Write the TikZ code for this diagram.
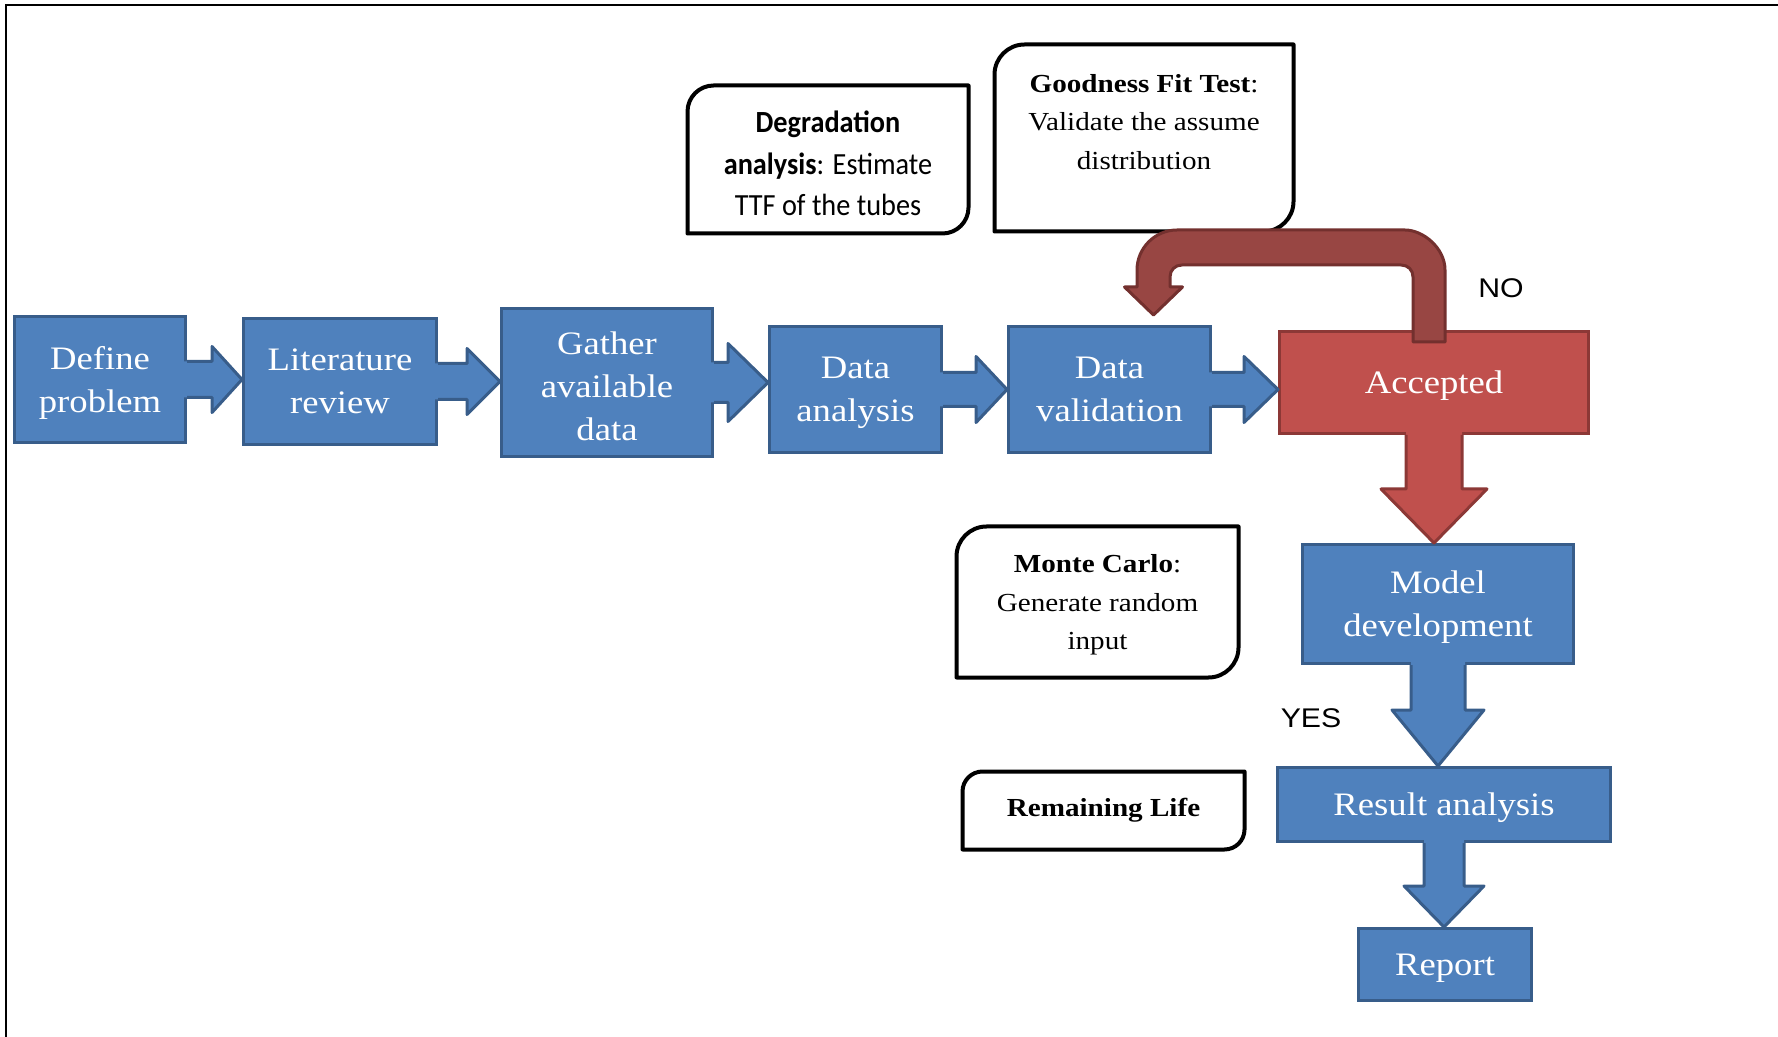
\documentclass[tikz,border=0pt]{standalone}
\usepackage{fontspec}
\setmainfont{Liberation Serif}[FakeStretch=1.12]
\newfontfamily\notefont{Carlito}[FakeStretch=0.92]
\newfontfamily\answerfont{Liberation Sans}[FakeStretch=1.12]
\usetikzlibrary{calc}

\definecolor{flowblue}{HTML}{4F81BD}
\definecolor{flowblueedge}{HTML}{385D8A}
\definecolor{flowred}{HTML}{C0504D}
\definecolor{flowrededge}{HTML}{8C3836}
\definecolor{loopred}{HTML}{984643}
\definecolor{loopredge}{HTML}{73302E}

\tikzset{
  boxdim/.style 2 args={minimum width=#1*0.4pt, minimum height=#2*0.4pt},
  stepnode/.style={draw=flowblueedge, fill=flowblue, line width=1.2pt, inner sep=0pt,
    text=white, align=center, text depth=-0.8pt, font=\fontsize{13.1}{17.2}\selectfont},
  decision/.style={stepnode, draw=flowrededge, fill=flowred},
  calloutbox/.style={inner sep=0pt, align=center, font=\fontsize{10.4}{15.4}\selectfont},
  calloutline/.style={line width=1.6pt, line join=round},
  flowedge/.style={line width=1.2pt, line join=round},
  answer/.style={inner sep=0pt, font=\answerfont\fontsize{10.8}{13}\selectfont}
}
\newcommand{\lowerby}[1]{\rule{0pt}{#1}}

% block arrow to the right, from #1 to #2: shaft half, head half, head length
\newcommand{\flowright}[5]{%
  \coordinate (tip) at (#2.west |- #1.east);
  \fill[flowblue] ($(#1.east)+(-3,-#3)$) -- ($(tip)+(-#5,-#3)$) -- ($(tip)+(-#5,-#4)$) -- (tip)
    -- ($(tip)+(-#5,#4)$) -- ($(tip)+(-#5,#3)$) -- ($(#1.east)+(-3,#3)$) -- cycle;
  \draw[flowedge, draw=flowblueedge] ($(#1.east)+(0,-#3)$) -- ($(tip)+(-#5,-#3)$) -- ($(tip)+(-#5,-#4)$) -- (tip)
    -- ($(tip)+(-#5,#4)$) -- ($(tip)+(-#5,#3)$) -- ($(#1.east)+(0,#3)$);
}
% block arrow downwards, colour #1, from #2 to #3
\newcommand{\flowdown}[6]{%
  \coordinate (tip) at (#2.south |- #3.north);
  \fill[#1] ($(#2.south)+(-#4,-3)$) -- ($(tip)+(-#4,-#6)$) -- ($(tip)+(-#5,-#6)$) -- (tip)
    -- ($(tip)+(#5,-#6)$) -- ($(tip)+(#4,-#6)$) -- ($(#2.south)+(#4,-3)$) -- cycle;
  \draw[flowedge, draw=#1edge] ($(#2.south)+(-#4,0)$) -- ($(tip)+(-#4,-#6)$) -- ($(tip)+(-#5,-#6)$) -- (tip)
    -- ($(tip)+(#5,-#6)$) -- ($(tip)+(#4,-#6)$) -- ($(#2.south)+(#4,0)$);
}
% note outline, round top left and bottom right corners
\newcommand{\callout}[2]{%
  \draw[calloutline] (#1.south west) -- ($(#1.north west)+(0,#2)$)
    .. controls ($(#1.north west)+(0,0.45*#2)$) and ($(#1.north west)+(0.45*#2,0)$) .. ($(#1.north west)+(#2,0)$)
    -- (#1.north east) -- ($(#1.south east)+(0,-#2)$)
    .. controls ($(#1.south east)+(0,-0.45*#2)$) and ($(#1.south east)+(-0.45*#2,0)$) .. ($(#1.south east)+(-#2,0)$)
    -- cycle;
}

\begin{document}
\begin{tikzpicture}[x=0.4pt,y=-0.4pt]
  \useasboundingbox (0,0) rectangle (1778,1037);
  \draw[line width=1pt] (6,1037) -- (6,5) -- (1778,5);

  % notes
  \node[calloutbox, boxdim={280}{147}, font=\notefont\fontsize{12.3}{16.6}\selectfont] (degradation) at (828,159.5)
    {\lowerby{12pt}\textbf{Degradation}\\\textbf{analysis}: Estimate\\TTF of the tubes};
  \callout{degradation}{26}
  \node[calloutbox, boxdim={298}{186}] (goodnessbox) at (1144,138) {};
  \callout{goodnessbox}{30}
  \node[calloutbox] (goodness) at ($(goodnessbox.center)+(0,-16)$)
    {\textbf{Goodness Fit Test}:\\Validate the assume\\distribution};
  \node[calloutbox, boxdim={281}{150}, text depth=0pt] (montecarlo) at (1097.5,602)
    {\textbf{Monte Carlo}:\\Generate random\\input};
  \callout{montecarlo}{30}
  \node[calloutbox, boxdim={281}{77}] (remaining) at (1103.5,810.5) {\textbf{Remaining Life}};
  \callout{remaining}{20}

  % steps
  \node[stepnode, boxdim={171}{126}] (define) at (100,379.5) {Define\\problem};
  \node[stepnode, boxdim={193}{126}] (literature) at (340,381.5) {Literature\\review};
  \node[stepnode, boxdim={211}{148}] (gather) at (607,382.5) {\lowerby{11.8pt}Gather\\available\\data};
  \node[stepnode, boxdim={172}{126}] (analysis) at (855.5,389.5) {Data\\analysis};
  \node[stepnode, boxdim={202}{126}] (validation) at (1109.5,389.5) {Data\\validation};
  \node[decision, boxdim={309}{102}] (accepted) at (1434,382.5) {Accepted};
  \node[stepnode, boxdim={271}{119}] (model) at (1438,604) {Model\\development};
  \node[stepnode, boxdim={333}{74}] (result) at (1444,804.5) {Result analysis};
  \node[stepnode, boxdim={173}{72}] (report) at (1445,964.5) {Report};

  % arrows
  \flowright{define}{literature}{18}{33}{30}
  \flowright{literature}{gather}{18}{33}{33}
  \flowright{gather}{analysis}{20}{39}{40}
  \flowright{analysis}{validation}{17}{33}{31}
  \flowright{validation}{accepted}{17}{33}{34}
  \flowdown{flowred}{accepted}{model}{28}{53}{54}
  \flowdown{flowblue}{model}{result}{27}{46}{56}
  \flowdown{flowblue}{result}{report}{20}{40}{41}

  % loop back when not accepted
  \coordinate (no1) at ($(accepted.north)+(-5,12)$);
  \coordinate (no2) at ($(validation.north)+(44,-10)$);
  \draw[flowedge, fill=loopred, draw=loopredge] ($(no1)+(16,0)$) -- ($(no1)+(16,-72)$)
    .. controls ($(no1)+(16,-94)$) and ($(no1)+(-6,-112)$) .. ($(no1)+(-24,-112)$)
    -- ($(no2)+(23.5,-85)$)
    .. controls ($(no2)+(1.5,-85)$) and ($(no2)+(-16.5,-67)$) .. ($(no2)+(-16.5,-45)$)
    -- ($(no2)+(-16.5,-28)$) -- ($(no2)+(-29,-28)$) -- (no2) -- ($(no2)+(29,-28)$) -- ($(no2)+(16.5,-28)$)
    -- ($(no2)+(16.5,-38)$)
    .. controls ($(no2)+(16.5,-45)$) and ($(no2)+(21.5,-50)$) .. ($(no2)+(28.5,-50)$)
    -- ($(no1)+(-28,-77)$)
    .. controls ($(no1)+(-21,-77)$) and ($(no1)+(-16,-72)$) .. ($(no1)+(-16,-65)$)
    -- ($(no1)+(-16,0)$) -- cycle;

  \node[answer] (no) at (1501,288) {NO};
  \node[answer] (yes) at (1311,718) {YES};
\end{tikzpicture}
\end{document}
